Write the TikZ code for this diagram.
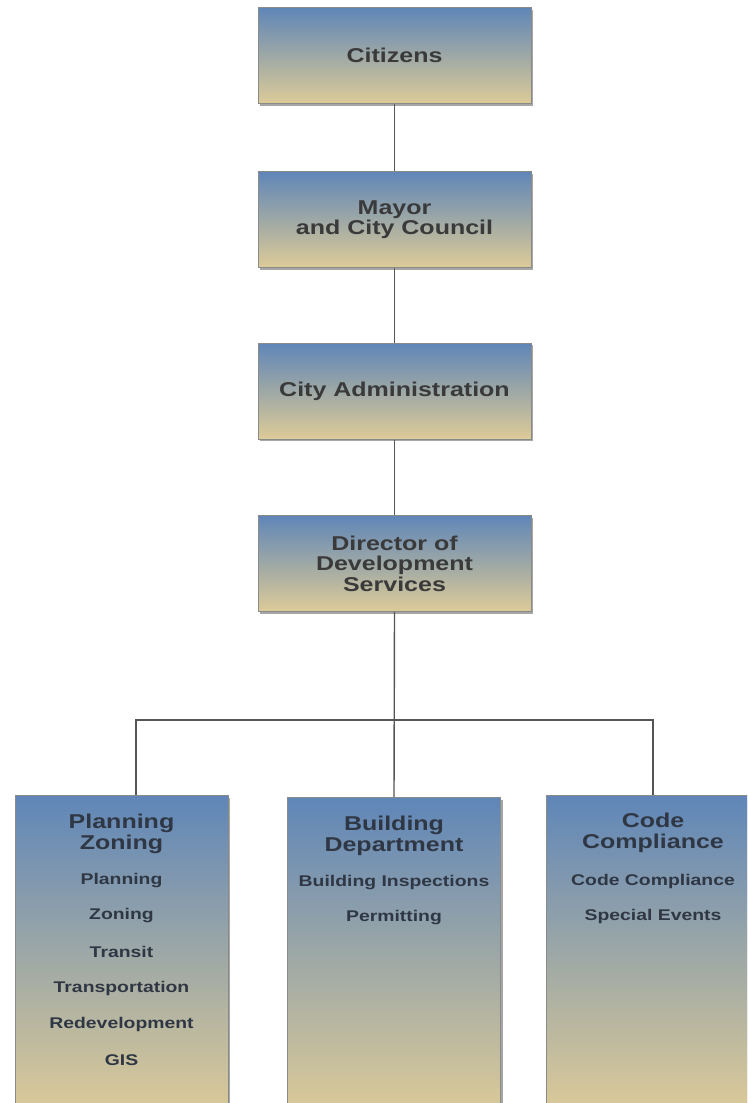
\documentclass[tikz,border=0pt]{standalone}
\usepackage{fontspec}
\setmainfont{Liberation Sans}[FakeStretch=1.25]
\usetikzlibrary{shadows}
\definecolor{boxtop}{HTML}{5F86B8}
\definecolor{boxmid}{HTML}{9EA8A6}
\definecolor{boxbot}{HTML}{DDCB98}
\definecolor{boxedge}{HTML}{8A8A8A}
\definecolor{linkgray}{HTML}{555555}
\definecolor{toptext}{HTML}{3A3A3A}
\definecolor{deptext}{HTML}{2F3744}
\tikzset{
  x=1pt, y=1pt,
  unitbox/.style={draw=boxedge, line width=1pt, top color=boxtop, bottom color=boxbot,
    middle color=boxmid, drop shadow={shadow xshift=2pt, shadow yshift=-2pt, fill=black, opacity=0.35},
    inner sep=0pt},
  topbox/.style={unitbox, minimum width=273pt, minimum height=96pt,
    font=\bfseries\fontsize{20}{20.5}\selectfont, text=toptext, align=center},
  deptbox/.style={unitbox, minimum width=213pt, minimum height=320pt, anchor=north},
  depttitle/.style={font=\bfseries\fontsize{20}{20.5}\selectfont, text=deptext, align=center, inner sep=0pt},
  deptitem/.style={font=\bfseries\fontsize{15.5}{16}\selectfont, text=deptext, inner sep=0pt},
  link/.style={draw=linkgray, line width=1.4pt},
}
\begin{document}
\begin{tikzpicture}
\useasboundingbox (0,0) rectangle (747,-1103);
\clip (0,0) rectangle (747,-1103);

% chain of command
\node[topbox] (cit) at (394.5,-55.5) {Citizens};
\node[topbox] (mayor) at (394.5,-219.5) {Mayor\\and City Council};
\node[topbox] (admin) at (394.5,-391) {City Administration};
\node[topbox] (dir) at (394.5,-563.5) {Director of\\Development\\Services};

% departments
\node[deptbox] (plan) at (121.5,-795) {};
\node[deptbox] (bldg) at (394,-797) {};
\node[deptbox] (code) at (653,-795) {};

% department headings and divisions
\node[depttitle] (planT) at (121.5,-834) {Planning\\Zoning};
\node[deptitem] (p1) at (121.5,-881) {Planning};
\node[deptitem] (p2) at (121.5,-916) {Zoning};
\node[deptitem] (p3) at (121.5,-952) {Transit};
\node[deptitem] (p4) at (121.5,-988) {Transportation};
\node[deptitem] (p5) at (121.5,-1024) {Redevelopment};
\node[deptitem] (p6) at (121.5,-1060) {GIS};

\node[depttitle] (bldgT) at (394,-836) {Building\\Department};
\node[deptitem] (b1) at (394,-883) {Building Inspections};
\node[deptitem] (b2) at (394,-918) {Permitting};

\node[depttitle] (codeT) at (653,-833) {Code\\Compliance};
\node[deptitem] (c1) at (653,-881) {Code Compliance};
\node[deptitem] (c2) at (653,-916) {Special Events};

% connectors
\coordinate (bus) at (394.5,-720);
\coordinate (planDrop) at (136,-720);
\draw[link] (cit.south) -- (mayor.north);
\draw[link] (mayor.south) -- (admin.north);
\draw[link] (admin.south) -- (dir.north);
\draw[link] (dir.south) -- (bldg.north);
\draw[link] (planDrop |- plan.north) -- (planDrop) -- (bus) -| (code.north);
\end{tikzpicture}
\end{document}
